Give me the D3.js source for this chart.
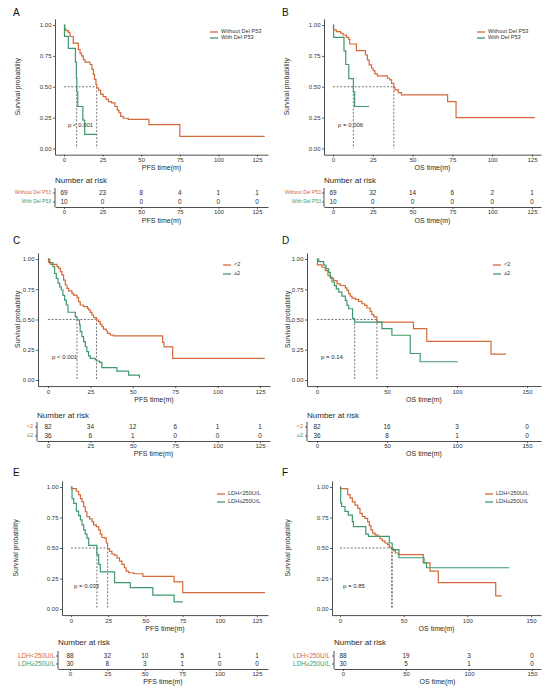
<!DOCTYPE html>
<html><head><meta charset="utf-8">
<script src="https://cdn.jsdelivr.net/npm/d3@7"></script>
<style>body{margin:0;background:#fff} svg{display:block} text{font-family:"Liberation Sans",Arial,sans-serif}</style>
</head><body><svg id="c" width="550" height="693"></svg>
<script>
// ---------------- DATA ----------------
const colors = ["#d4693a", "#3e9a6e"];
const ticks125 = [0, 25, 50, 75, 100, 125];
const ticks150 = [0, 50, 100, 150];
const yTicks = [0, 0.25, 0.5, 0.75, 1];

// Panel A: PFS by Del P53
const aWithout = [[0,1],[0.5,0.97],[1.1,0.955],[2.8,0.94],[3.9,0.907],[6.0,0.853],[9.3,0.80],[10.4,0.77],[11.4,0.75],[12.5,0.72],[13.6,0.70],[16.8,0.68],[18.1,0.64],[19.0,0.60],[19.8,0.56],[20.7,0.52],[21.2,0.49],[22.4,0.47],[23.7,0.44],[25.4,0.42],[27.2,0.40],[28.7,0.38],[30.8,0.37],[33.0,0.34],[34.5,0.31],[35.6,0.29],[36.7,0.26],[38.4,0.245],[41.6,0.236],[55,0.193],[75,0.098],[130,0.098]];
const aWith = [[0,1],[0.3,0.908],[2.8,0.81],[7.4,0.70],[8.0,0.57],[8.3,0.46],[8.9,0.34],[12.2,0.23],[13.4,0.114],[21.2,0.114]];
const aMedians = [21.2, 8.2];
const aRiskWithout = [69, 23, 8, 4, 1, 1];
const aRiskWith = [10, 0, 0, 0, 0, 0];

// Panel B: OS by Del P53
const bWithout = [[0,1],[0.3,0.96],[2.1,0.946],[4.8,0.933],[6.3,0.919],[8.4,0.90],[9.9,0.884],[10.5,0.846],[14.7,0.792],[20.4,0.757],[21.6,0.717],[22.7,0.677],[24.2,0.65],[25.2,0.63],[26.3,0.604],[27.9,0.588],[34.2,0.569],[35.7,0.555],[36.8,0.528],[38.2,0.496],[38.9,0.474],[41,0.453],[43,0.434],[72,0.38],[77.3,0.25],[126.7,0.25]];
const bWith = [[0,1],[0.4,0.90],[6.9,0.79],[8.0,0.68],[9.9,0.566],[12.8,0.458],[13.6,0.34],[22.7,0.34]];
const bMedians = [38.2, 12.8];
const bRiskWithout = [69, 32, 14, 6, 2, 1];
const bRiskWith = [10, 0, 0, 0, 0, 0];

// Panel C: PFS by <2 / >=2
const cLess2 = [[0,1],[0.3,0.972],[1.4,0.956],[5.3,0.937],[6.3,0.923],[7.3,0.895],[8.2,0.868],[9.2,0.826],[10.2,0.785],[11.2,0.758],[12.2,0.736],[14.1,0.716],[15.1,0.702],[17.1,0.680],[18.0,0.647],[19.0,0.620],[21.0,0.606],[23.3,0.592],[23.9,0.579],[24.9,0.559],[25.9,0.537],[26.9,0.515],[28.6,0.496],[29.8,0.482],[30.8,0.46],[31.8,0.441],[32.7,0.421],[34.3,0.405],[35.1,0.386],[36.7,0.372],[38.6,0.364],[67.6,0.311],[68.4,0.273],[73.5,0.179],[127.8,0.179]];
const cGe2 = [[0,1],[1,0.97],[2.9,0.937],[3.9,0.88],[4.9,0.84],[5.9,0.80],[6.9,0.77],[7.8,0.744],[8.8,0.70],[9.8,0.66],[10.8,0.62],[11.8,0.56],[16.1,0.523],[17.1,0.496],[18.6,0.455],[19,0.40],[20,0.358],[21,0.317],[22,0.275],[22.9,0.234],[23.9,0.20],[24.9,0.179],[27.8,0.168],[28.8,0.157],[30.4,0.146],[31.8,0.102],[40.6,0.074],[47.5,0.041],[53.9,0.019],[54.3,0.019]];
const cMedians = [28.6, 17.1];
const cRiskLess2 = [82, 34, 12, 6, 1, 1];
const cRiskGe2 = [36, 6, 1, 0, 0, 0];

// Panel D: OS by <2 / >=2
const dLess2 = [[0,1],[0.3,0.951],[3.6,0.932],[5.9,0.904],[7.8,0.863],[9.5,0.841],[11.9,0.822],[14.3,0.795],[16.6,0.781],[20.2,0.762],[21.4,0.740],[22.6,0.712],[23.8,0.693],[25,0.677],[27.3,0.666],[29.7,0.649],[32.1,0.630],[34,0.616],[35.7,0.595],[38,0.567],[39.2,0.540],[40.6,0.521],[42.8,0.479],[68.9,0.425],[78.4,0.32],[124.3,0.214],[135,0.214]];
const dGe2 = [[0,1],[1.2,0.978],[4.8,0.95],[6.4,0.918],[8.3,0.89],[9.5,0.85],[10.7,0.81],[12.4,0.78],[13.8,0.753],[15.5,0.726],[17.8,0.693],[20.2,0.658],[21.4,0.616],[22.6,0.589],[25.4,0.507],[26.9,0.479],[46.4,0.425],[53.5,0.37],[66.6,0.219],[73.7,0.151],[100.5,0.151]];
const dMedians = [42.8, 26.9];
const dRiskLess2 = [82, 16, 3, 0];
const dRiskGe2 = [36, 8, 1, 0];

// Panel E: PFS by LDH
const eLess = [[0,1],[0.3,0.986],[3.6,0.965],[5.1,0.938],[6.3,0.905],[7.4,0.878],[8.5,0.838],[9.6,0.797],[10.7,0.757],[12.5,0.738],[14.1,0.716],[15.2,0.689],[17,0.676],[18.6,0.649],[19.7,0.614],[20.8,0.586],[22.4,0.581],[23.7,0.541],[24.6,0.495],[25.9,0.473],[27.5,0.451],[29.1,0.441],[30.9,0.419],[32.6,0.392],[34.2,0.365],[35.8,0.338],[37.1,0.311],[38.7,0.297],[42,0.289],[48.3,0.268],[69.3,0.222],[75.1,0.135],[130.4,0.135]];
const eGe = [[0,1],[0.7,0.905],[1.8,0.865],[3.6,0.803],[5.1,0.765],[6.3,0.73],[7.4,0.689],[8.5,0.649],[9.6,0.614],[10.7,0.581],[11.9,0.522],[17.4,0.446],[18.6,0.365],[19.7,0.305],[29.3,0.216],[39.8,0.176],[55,0.114],[69.3,0.059],[75.1,0.059]];
const eMedians = [24.6, 17.4];
const eRiskLess = [88, 32, 10, 5, 1, 1];
const eRiskGe = [30, 8, 3, 1, 0, 0];

// Panel F: OS by LDH
const fLess = [[0,1],[0.3,0.986],[6,0.938],[7.9,0.911],[9.7,0.878],[11.8,0.851],[13.9,0.824],[15.7,0.784],[17.5,0.757],[19.6,0.743],[21.7,0.716],[23,0.684],[24.3,0.649],[25.7,0.622],[27.5,0.608],[29.6,0.595],[31.4,0.576],[33.2,0.559],[35.3,0.541],[37.4,0.527],[38.7,0.505],[40.6,0.495],[41.9,0.478],[43.5,0.459],[45.8,0.446],[65.4,0.378],[70.7,0.311],[77.2,0.216],[122.3,0.108],[127,0.108]];
const fGe = [[0,1],[0.5,0.87],[1.3,0.84],[3.9,0.80],[6.5,0.77],[9.7,0.716],[10.5,0.676],[20.2,0.614],[22.3,0.595],[38.7,0.541],[41.0,0.486],[46.3,0.42],[66,0.38],[68,0.338],[133,0.338]];
const fMedians = [40.6, 41.0];
const fRiskLess = [88, 19, 3, 0];
const fRiskGe = [30, 5, 1, 0];

const labelsP53 = ["Without Del P53", "With Del P53"];
const labels2 = ["<2", "\u22652"];
const labelsLDH = ["LDH<250U/L", "LDH\u2265250U/L"];

// ---------------- LAYOUT ----------------
const panels = [
 {letter:"A", series:[aWithout,aWith], medians:aMedians, risk:[aRiskWithout,aRiskWith], labels:labelsP53, ticks:ticks125, xTitle:"PFS time(m)", p:"p < 0.001",
  g:{lx:13,ly:16, axL:55,x0:64,xT:125,xTpx:257,xR:268, y1:25,y0:148.5, ylabX:18, xTickY:161, xTitleY:168, legX:210, legY:[32,38], legFs:5.6, pX:68,pY:125,
     narY:181, rows:[193,202], rowLX:51, rowFs:5, tAxL:55, tx0:64, txTpx:257, tAxB:207, tTickY:213.5, tTitleY:221}},
 {letter:"B", series:[bWithout,bWith], medians:bMedians, risk:[bRiskWithout,bRiskWith], labels:labelsP53, ticks:ticks125, xTitle:"OS time(m)", p:"p = 0.006",
  g:{lx:282,ly:16, axL:324,x0:333,xT:125,xTpx:532,xR:541, y1:25,y0:148.5, ylabX:287, xTickY:161, xTitleY:168, legX:477, legY:[32,38], legFs:5.6, pX:338,pY:125,
     narY:181, rows:[193,202], rowLX:321, rowFs:5, tAxL:324, tx0:333, txTpx:532, tAxB:207, tTickY:213.5, tTitleY:221}},
 {letter:"C", series:[cLess2,cGe2], medians:cMedians, risk:[cRiskLess2,cRiskGe2], labels:labels2, ticks:ticks125, xTitle:"PFS time(m)", p:"p < 0.001",
  g:{lx:13,ly:244, axL:38,x0:48,xT:125,xTpx:260,xR:270, y1:259,y0:380, ylabX:18, xTickY:393, xTitleY:400, legX:223, legY:[265,274], legFs:5.6, pX:52,pY:357,
     narY:416, rows:[427,436], rowLX:33, rowFs:5.6, tAxL:37, tx0:48, txTpx:260, tAxB:441, tTickY:447, tTitleY:454}},
 {letter:"D", series:[dLess2,dGe2], medians:dMedians, risk:[dRiskLess2,dRiskGe2], labels:labels2, ticks:ticks150, xTitle:"OS time(m)", p:"p = 0.14",
  g:{lx:282,ly:244, axL:307,x0:317,xT:150,xTpx:527,xR:541, y1:259,y0:380, ylabX:288, xTickY:393, xTitleY:400, legX:493, legY:[265,274], legFs:5.6, pX:321,pY:357,
     narY:416, rows:[427,436], rowLX:303, rowFs:5.6, tAxL:307, tx0:317, txTpx:527, tAxB:441, tTickY:447, tTitleY:454}},
 {letter:"E", series:[eLess,eGe], medians:eMedians, risk:[eRiskLess,eRiskGe], labels:labelsLDH, ticks:ticks125, xTitle:"PFS time(m)", p:"p = 0.033",
  g:{lx:13,ly:476, axL:62,x0:71,xT:125,xTpx:257,xR:268, y1:487,y0:609, ylabX:16, xTickY:622, xTitleY:629, legX:217, legY:[494,502], legFs:5.6, pX:74,pY:586,
     narY:643, rows:[656,664], rowLX:55, rowFs:6.4, tAxL:58, tx0:70, txTpx:257, tAxB:669, tTickY:675, tTitleY:682}},
 {letter:"F", series:[fLess,fGe], medians:fMedians, risk:[fRiskLess,fRiskGe], labels:labelsLDH, ticks:ticks150, xTitle:"OS time(m)", p:"p = 0.85",
  g:{lx:282,ly:476, axL:332,x0:340,xT:150,xTpx:531,xR:541, y1:487,y0:609, ylabX:288, xTickY:622, xTitleY:629, legX:485, legY:[494,502], legFs:5.6, pX:343,pY:586,
     narY:643, rows:[656,664], rowLX:330, rowFs:6.4, tAxL:334, tx0:343, txTpx:532, tAxB:669, tTickY:675, tTitleY:682}}
];

const svg = d3.select("#c");
const AX = "#3a3a3a";
const TXT = "#2a2a2a";

function styleAxis(sel, fs){
  sel.select(".domain").attr("stroke", AX).attr("stroke-width", 0.9);
  sel.selectAll(".tick line").attr("stroke", AX).attr("stroke-width", 0.8);
  sel.selectAll(".tick text").attr("fill", "#333").attr("font-size", fs).attr("font-family", '"Liberation Sans",Arial,sans-serif');
}

panels.forEach(P => {
  const g = P.g;
  const unit = (g.xTpx - g.x0) / g.xT;
  const x = d3.scaleLinear().domain([(g.axL - g.x0)/unit, (g.xR - g.x0)/unit]).range([g.axL, g.xR]);
  const uy = g.y0 - g.y1;
  const y = d3.scaleLinear().domain([-0.05, 1.05]).range([g.y0 + 0.05*uy, g.y1 - 0.05*uy]);
  const axB = g.y0 + 0.05*uy;
  const root = svg.append("g");

  root.append("text").attr("x", g.lx).attr("y", g.ly).attr("font-size", 10).attr("fill", "#111").text(P.letter);

  const xa = root.append("g").attr("transform", `translate(0,${axB})`)
    .call(d3.axisBottom(x).tickValues(P.ticks).tickSize(2).tickSizeOuter(0).tickPadding(1.5));
  styleAxis(xa, 6);
  const ya = root.append("g").attr("transform", `translate(${g.axL},0)`)
    .call(d3.axisLeft(y).tickValues(yTicks).tickFormat(d3.format(".2f")).tickSize(2).tickSizeOuter(0).tickPadding(1.5));
  styleAxis(ya, 6);

  root.append("text").attr("x", (g.axL + g.xR)/2).attr("y", g.xTitleY).attr("text-anchor","middle")
    .attr("dominant-baseline","middle").attr("font-size", 7).attr("fill",TXT).text(P.xTitle);
  root.append("text").attr("transform", `translate(${g.ylabX},${(g.y0+g.y1)/2}) rotate(-90)`)
    .attr("text-anchor","middle").attr("dominant-baseline","middle").attr("font-size", 6.8).attr("fill",TXT).text("Survival probability");

  const mMax = d3.max(P.medians);
  root.append("line").attr("x1", x(0)).attr("x2", x(mMax)).attr("y1", y(0.5)).attr("y2", y(0.5))
    .attr("stroke","#555").attr("stroke-width",0.8).attr("stroke-dasharray","2,1.6");
  P.medians.forEach(m => {
    root.append("line").attr("x1", x(m)).attr("x2", x(m)).attr("y1", y(0.5)).attr("y2", y(0))
      .attr("stroke","#555").attr("stroke-width",0.8).attr("stroke-dasharray","2,1.6");
  });

  const line = d3.line().x(d => x(d[0])).y(d => y(d[1])).curve(d3.curveStepAfter);
  P.series.forEach((s, i) => {
    root.append("path").datum(s).attr("d", line).attr("fill","none")
      .attr("stroke", colors[i]).attr("stroke-width", 1.2);
  });

  root.append("text").attr("x", g.pX).attr("y", g.pY).attr("dominant-baseline","middle")
    .attr("font-size", 6).attr("fill",TXT).text(P.p);

  P.labels.forEach((lab, i) => {
    const ly = g.legY[i];
    root.append("line").attr("x1", g.legX).attr("x2", g.legX + 8).attr("y1", ly).attr("y2", ly)
      .attr("stroke", colors[i]).attr("stroke-width", 1.3);
    root.append("text").attr("x", g.legX + 11).attr("y", ly).attr("dominant-baseline","middle")
      .attr("font-size", g.legFs).attr("fill","#333").text(lab);
  });

  const tunit = (g.txTpx - g.tx0) / g.xT;
  const tx = d3.scaleLinear().domain([(g.tAxL - g.tx0)/tunit, (g.xR - g.tx0)/tunit]).range([g.tAxL, g.xR]);
  root.append("text").attr("x", g.tAxL).attr("y", g.narY).attr("dominant-baseline","middle")
    .attr("font-size", 8).attr("fill",TXT).text("Number at risk");
  P.risk.forEach((row, i) => {
    const ry = g.rows[i];
    root.append("text").attr("x", g.rowLX).attr("y", ry).attr("text-anchor","end").attr("dominant-baseline","middle")
      .attr("font-size", g.rowFs).attr("fill", colors[i]).text(P.labels[i]);
    root.append("line").attr("x1", g.tAxL - 2).attr("x2", g.tAxL).attr("y1", ry).attr("y2", ry).attr("stroke", AX).attr("stroke-width",0.8);
    root.selectAll(null).data(row).enter().append("text")
      .attr("x", (d, k) => tx(P.ticks[k])).attr("y", ry).attr("text-anchor","middle").attr("dominant-baseline","middle")
      .attr("font-size", 6.4).attr("fill",TXT).text(d => d);
  });
  root.append("line").attr("x1", g.tAxL).attr("x2", g.tAxL).attr("y1", g.rows[0] - 5).attr("y2", g.tAxB)
    .attr("stroke", AX).attr("stroke-width", 0.9);
  const ta = root.append("g").attr("transform", `translate(0,${g.tAxB})`)
    .call(d3.axisBottom(tx).tickValues(P.ticks).tickSize(2).tickSizeOuter(0).tickPadding(1.2));
  styleAxis(ta, 6);
  root.append("text").attr("x", (g.tAxL + g.xR)/2).attr("y", g.tTitleY).attr("text-anchor","middle")
    .attr("dominant-baseline","middle").attr("font-size", 7).attr("fill",TXT).text(P.xTitle);
});
</script>
</body></html>
